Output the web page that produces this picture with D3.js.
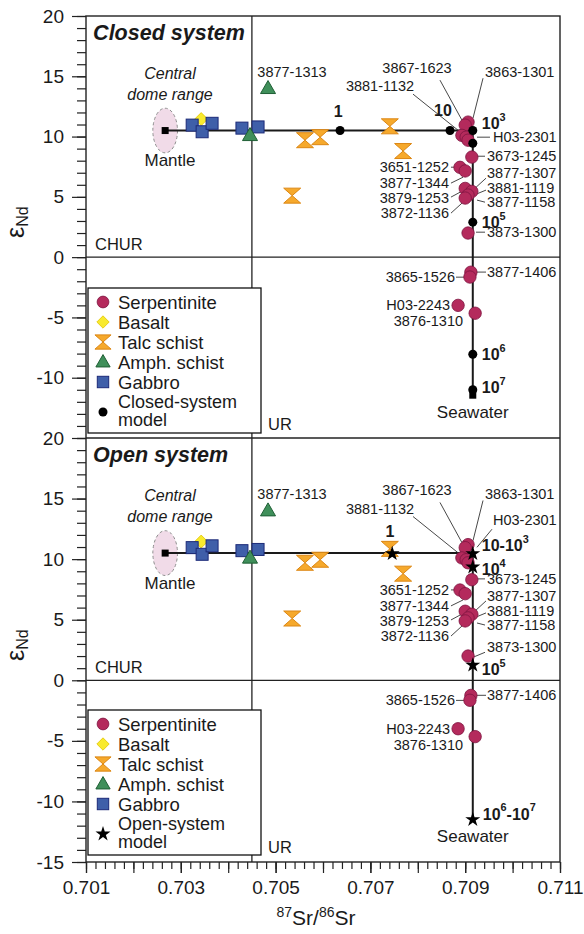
<!DOCTYPE html>
<html><head><meta charset="utf-8">
<script src="https://cdn.jsdelivr.net/npm/d3@7"></script>
<style>
body{margin:0;background:#fff}
text{font-family:"Liberation Sans",Arial,Helvetica,sans-serif;fill:#1a1a1a}
</style>
</head><body>
<svg id="chart" width="584" height="934"></svg>
<script>
// ---------------- DATA ----------------
const xTickLabels = ["0.701","0.703","0.705","0.707","0.709","0.711"];
const yTickLabelsTop = [20,15,10,5,0,-5,-10];
const yTickLabelsBottom = [20,15,10,5,0,-5,-10,-15];

const serpentiniteX = [0.70906,0.70900,0.70893,0.70902,0.70906,0.70914,0.70889,0.70900,0.70900,0.70914,0.70906,0.70900,0.70906,0.70912,0.70910,0.70885,0.70921];
const serpentiniteY = [11.2,10.95,10.1,9.95,9.7,8.3,7.45,7.15,5.7,5.45,5.15,4.9,2.0,-1.25,-1.65,-4.0,-4.65];
const basaltX = [0.70343];
const basaltY = [11.45];
const talcX = [0.70562,0.70594,0.70741,0.70769,0.70535];
const talcY = [9.7,9.95,10.85,8.8,5.1];
const amphX = [0.70484,0.70446];
const amphY = [14.0,10.1];
const gabbroX = [0.70324,0.70345,0.70366,0.70429,0.70463];
const gabbroY = [10.95,10.4,11.1,10.7,10.8];

const mantle = [0.70267,10.5];
const seawater = [0.70916,-11.45];
const mixCorner = [0.70916,10.5];
const centralDome = [0.70267,10.5,0.00026,1.85]; // cx, cy, rx, ry (data units)

const closedModelX = [0.70636,0.70868,0.70916,0.70916,0.70916,0.70916,0.70916];
const closedModelY = [10.5,10.5,10.5,9.45,2.9,-8.05,-11.0];
const closedModelLabels = ["1","10","10^3","10^5","10^6","10^7"];
const closedModelLabelX = [0.70632,0.70853,0.70935,0.70935,0.70935,0.70935];
const closedModelLabelY = [12.1,12.2,11.1,2.9,-8.0,-10.8];
const closedModelLabelAnchor = ["middle","middle","start","start","start","start"];

const openModelX = [0.70746,0.70916,0.70916,0.70916,0.70916];
const openModelY = [10.45,10.45,9.35,1.25,-11.5];
const openModelLabels = ["1","10-10^3","10^4","10^5","10^6-10^7"];
const openModelLabelX = [0.70741,0.70935,0.70935,0.70935,0.70937];
const openModelLabelY = [12.3,11.15,9.15,0.95,-11.0];
const openModelLabelAnchor = ["middle","start","start","start","start"];

const sampleNames  = ["3877-1313","3867-1623","3863-1301","3881-1132","3673-1245","3651-1252","3877-1344","3879-1253","3872-1136","3877-1307","3881-1119","3877-1158","3877-1406","3865-1526","H03-2243","3876-1310"];
const sampleLabelX = [0.705346,0.707983,0.709418,0.707203,0.709460,0.708658,0.708658,0.708658,0.708658,0.709460,0.709460,0.709460,0.709460,0.708785,0.708680,0.708955];
const sampleLabelY = [15.34,15.67,15.34,14.18,8.37,7.46,6.14,4.89,3.65,6.97,5.72,4.56,-1.24,-1.66,-3.98,-5.31];
const sampleAnchor = ["middle","middle","start","middle","start","end","end","end","end","start","start","start","start","end","end","end"];
const leaderX1 = [0.708468,0.709376,0.707899,0.709249,0.708700,0.708700,0.708700,0.708700,0.709439,0.709439,0.709249,0.709249,0.708806];
const leaderY1 = [14.68,14.84,13.52,8.37,7.46,6.14,4.98,3.65,6.55,5.56,4.73,-1.24,-1.66];
const leaderX2 = [0.708932,0.709165,0.708848,0.709418,0.708806,0.708954,0.708932,0.708932,0.709186,0.709228,0.709418,0.709439,0.708975];
const leaderY2 = [11.36,11.53,10.53,8.37,7.46,6.63,5.47,4.48,5.64,5.22,4.56,-1.24,-1.66];

const h03TopLabel = [0.709586,9.95], h03TopLeader = [0.709249,9.95,0.709523,9.95];
const h03BotLabel = [0.709586,13.2], h03BotLeader = [0.709565,12.47,0.709249,10.98];
const s1300TopLabel = [0.709460,2.07], s1300TopLeader = [0.709228,2.07,0.709418,2.07];
const s1300BotLabel = [0.709460,2.73], s1300BotLeader = [0.709418,2.31,0.709165,1.90];

const legendNames = ["Serpentinite","Basalt","Talc schist","Amph. schist","Gabbro"];

// ---------------- CHART ----------------
const svg = d3.select("#chart");
const x = d3.scaleLinear().domain([0.701,0.711]).range([86,560]);
const yTop = d3.scaleLinear().domain([-15,20]).range([438,16]);
const yBot = d3.scaleLinear().domain([-15,20]).range([862,438]);

const C = {
  serp:["#b42a5c","#7e1440"], bas:["#f8ea2e","#e2c400"], talc:["#f6a92c","#dc8714"],
  amph:["#3f8f5a","#1f5f35"], gab:["#3f5fa9","#1c2a78"]
};

function hourglass(w,h){return `M${-w/2},${-h/2}L${w/2},${-h/2}L0,0L${w/2},${h/2}L${-w/2},${h/2}L0,0Z`;}
function triangle(w,h){return `M0,${-h*0.6}L${w/2},${h*0.4}L${-w/2},${h*0.4}Z`;}
function diamond(s){return `M0,${-s/2}L${s/2},0L0,${s/2}L${-s/2},0Z`;}

function drawMarker(g,type,px,py,scale){
  scale = scale||1;
  if(type==="serp") g.append("circle").attr("cx",px).attr("cy",py).attr("r",6.2*scale).attr("fill",C.serp[0]).attr("stroke",C.serp[1]).attr("stroke-width",0.8);
  else if(type==="bas") g.append("path").attr("d",diamond(13*scale)).attr("transform",`translate(${px},${py})`).attr("fill",C.bas[0]).attr("stroke",C.bas[1]).attr("stroke-width",0.8);
  else if(type==="talc") g.append("path").attr("d",hourglass(17*scale,15*scale)).attr("transform",`translate(${px},${py})`).attr("fill",C.talc[0]).attr("stroke",C.talc[1]).attr("stroke-width",1);
  else if(type==="amph") g.append("path").attr("d",triangle(15*scale,13*scale)).attr("transform",`translate(${px},${py})`).attr("fill",C.amph[0]).attr("stroke",C.amph[1]).attr("stroke-width",1);
  else if(type==="gab") g.append("rect").attr("x",px-6*scale).attr("y",py-6*scale).attr("width",12*scale).attr("height",12*scale).attr("fill",C.gab[0]).attr("stroke",C.gab[1]).attr("stroke-width",1);
}

function supText(g,str,px,py,anchor,size,weight){
  const t = g.append("text").attr("x",px).attr("y",py).attr("text-anchor",anchor)
    .attr("font-size",size).attr("font-weight",weight||"normal");
  const parts = str.split(/\^(\d)/);
  parts.forEach((p,i)=>{
    if(p==="") return;
    if(i%2===1) t.append("tspan").attr("dy",-size*0.38).attr("font-size",size*0.68).text(p);
    else t.append("tspan").attr("dy", i>0 ? size*0.38 : 0).text(p);
  });
  return t;
}

function panel(y, open){
  const g = svg.append("g");
  g.append("ellipse").attr("cx",x(centralDome[0])).attr("cy",y(centralDome[1]))
    .attr("rx",x(centralDome[0]+centralDome[2])-x(centralDome[0]))
    .attr("ry",y(centralDome[1]-centralDome[3])-y(centralDome[1]))
    .attr("fill","#f1dbe8").attr("stroke","#8e8e8e").attr("stroke-width",1).attr("stroke-dasharray","3,2.5");
  g.append("line").attr("x1",x(0.701)).attr("x2",x(0.711)).attr("y1",y(0)).attr("y2",y(0)).attr("stroke","#222").attr("stroke-width",1.3);
  g.append("line").attr("x1",x(0.7045)).attr("x2",x(0.7045)).attr("y1",y(20)).attr("y2",y(-15)).attr("stroke","#222").attr("stroke-width",1.3);
  const line = d3.line().x(d=>x(d[0])).y(d=>y(d[1]));
  g.append("path").attr("d",line([mantle,mixCorner,seawater])).attr("fill","none").attr("stroke","#1a1a1a").attr("stroke-width",2);
  g.append("rect").attr("x",x(mantle[0])-3.5).attr("y",y(mantle[1])-3.5).attr("width",7).attr("height",7).attr("fill","#000");
  if(!open) g.append("rect").attr("x",x(seawater[0])-3.5).attr("y",y(seawater[1])-3.5).attr("width",7).attr("height",7).attr("fill","#000");
  leaderX1.forEach((v,i)=>{
    g.append("line").attr("x1",x(v)).attr("y1",y(leaderY1[i])).attr("x2",x(leaderX2[i])).attr("y2",y(leaderY2[i])).attr("stroke","#333").attr("stroke-width",0.9);
  });
  const hl = open? h03BotLeader : h03TopLeader;
  const sl = open? s1300BotLeader : s1300TopLeader;
  [hl,sl].forEach(l=>g.append("line").attr("x1",x(l[0])).attr("y1",y(l[1])).attr("x2",x(l[2])).attr("y2",y(l[3])).attr("stroke","#333").attr("stroke-width",0.9));
  basaltX.forEach((v,i)=>drawMarker(g,"bas",x(v),y(basaltY[i])));
  gabbroX.forEach((v,i)=>drawMarker(g,"gab",x(v),y(gabbroY[i])));
  amphX.forEach((v,i)=>drawMarker(g,"amph",x(v),y(amphY[i])));
  talcX.forEach((v,i)=>drawMarker(g,"talc",x(v),y(talcY[i])));
  serpentiniteX.forEach((v,i)=>drawMarker(g,"serp",x(v),y(serpentiniteY[i])));
  if(!open){
    closedModelX.forEach((v,i)=>g.append("circle").attr("cx",x(v)).attr("cy",y(closedModelY[i])).attr("r",4.5).attr("fill","#000"));
    closedModelLabels.forEach((s,i)=>supText(g,s,x(closedModelLabelX[i]),y(closedModelLabelY[i]),closedModelLabelAnchor[i],16,"bold").attr("dominant-baseline","central"));
  } else {
    const star = d3.symbol(d3.symbolStar).size(70);
    openModelX.forEach((v,i)=>g.append("path").attr("d",star()).attr("transform",`translate(${x(v)},${y(openModelY[i])})`).attr("fill","#000"));
    openModelLabels.forEach((s,i)=>supText(g,s,x(openModelLabelX[i]),y(openModelLabelY[i]),openModelLabelAnchor[i],16,"bold").attr("dominant-baseline","central"));
  }
  sampleNames.forEach((s,i)=>{
    g.append("text").attr("x",x(sampleLabelX[i])).attr("y",y(sampleLabelY[i])).attr("text-anchor",sampleAnchor[i])
      .attr("dominant-baseline","central").attr("font-size",14.5).text(s);
  });
  const hp = open? h03BotLabel : h03TopLabel, sp = open? s1300BotLabel : s1300TopLabel;
  g.append("text").attr("x",x(hp[0])).attr("y",y(hp[1])).attr("dominant-baseline","central").attr("font-size",14.5).text("H03-2301");
  g.append("text").attr("x",x(sp[0])).attr("y",y(sp[1])).attr("dominant-baseline","central").attr("font-size",14.5).text("3873-1300");
  g.append("text").attr("x",x(0.70115)).attr("y",y(18.6)).attr("dominant-baseline","central").attr("font-size",21.5).attr("font-weight","bold").attr("font-style","italic").text(open?"Open system":"Closed system");
  g.append("text").attr("x",x(0.702772)).attr("y",y(15.26)).attr("text-anchor","middle").attr("dominant-baseline","central").attr("font-size",16).attr("font-style","italic").text("Central");
  g.append("text").attr("x",x(0.702772)).attr("y",y(13.5)).attr("text-anchor","middle").attr("dominant-baseline","central").attr("font-size",16).attr("font-style","italic").text("dome range");
  g.append("text").attr("x",x(0.702772)).attr("y",y(8.0)).attr("text-anchor","middle").attr("dominant-baseline","central").attr("font-size",17).text("Mantle");
  g.append("text").attr("x",x(0.70916)).attr("y",y(-12.9)).attr("text-anchor","middle").attr("dominant-baseline","central").attr("font-size",17).text("Seawater");
  g.append("text").attr("x",x(0.70119)).attr("y",y(1.1)).attr("dominant-baseline","central").attr("font-size",16.5).text("CHUR");
  g.append("text").attr("x",x(0.70484)).attr("y",y(-13.8)).attr("dominant-baseline","central").attr("font-size",16.5).text("UR");
  const top = y(20);
  const lg = g.append("g");
  lg.append("rect").attr("x",88).attr("y",top+272).attr("width",173).attr("height",145).attr("fill","#fff").attr("stroke","#111").attr("stroke-width",1.3);
  const types = ["serp","bas","talc","amph","gab"];
  legendNames.forEach((n,i)=>{
    const yy = top+286+i*20;
    drawMarker(lg,types[i],103,yy,0.95);
    lg.append("text").attr("x",118).attr("y",yy).attr("dominant-baseline","central").attr("font-size",18.5).text(n);
  });
  if(open){
    lg.append("path").attr("d",d3.symbol(d3.symbolStar).size(70)()).attr("transform",`translate(103,${top+396})`).attr("fill","#000");
  } else {
    lg.append("circle").attr("cx",103).attr("cy",top+396).attr("r",4.5).attr("fill","#000");
  }
  lg.append("text").attr("x",118).attr("y",top+386).attr("dominant-baseline","central").attr("font-size",18).text(open?"Open-system":"Closed-system");
  lg.append("text").attr("x",118).attr("y",top+404).attr("dominant-baseline","central").attr("font-size",18).text("model");
  const minor = g.append("g").attr("transform","translate(86,0)").call(d3.axisLeft(y).tickValues(d3.range(-15,21)).tickSize(9).tickFormat(""));
  minor.select(".domain").remove();
  const labels = open? yTickLabelsBottom : yTickLabelsTop;
  const major = g.append("g").attr("transform","translate(86,0)")
    .call(d3.axisLeft(y).tickValues(labels).tickSize(14).tickPadding(8).tickFormat(d=>String(d)));
  major.select(".domain").remove();
  major.selectAll("text").attr("font-size",19).attr("fill","#1a1a1a").attr("font-family","Liberation Sans, Arial, sans-serif");
  g.selectAll(".tick line").attr("stroke","#222").attr("stroke-width",1.2);
  const yt = g.append("text").attr("transform",`translate(24,${y(2.9)}) rotate(-90)`).attr("text-anchor","middle");
  yt.append("tspan").attr("font-size",25).text("ε");
  yt.append("tspan").attr("font-size",16).attr("dy",4).text("Nd");
}

panel(yTop,false);
panel(yBot,true);

svg.append("rect").attr("x",86).attr("y",16).attr("width",474).attr("height",846).attr("fill","none").attr("stroke","#222").attr("stroke-width",1.4);
svg.append("line").attr("x1",86).attr("x2",560).attr("y1",438).attr("y2",438).attr("stroke","#222").attr("stroke-width",1.4);

const xMinor = svg.append("g").attr("transform","translate(0,862)")
  .call(d3.axisBottom(x).tickValues(d3.range(0,51).map(i=>+(0.701+i*0.0002).toFixed(4))).tickSize(7).tickFormat(""));
xMinor.select(".domain").remove();
const xMid = svg.append("g").attr("transform","translate(0,862)")
  .call(d3.axisBottom(x).tickValues(d3.range(0,11).map(i=>+(0.701+i*0.001).toFixed(3))).tickSize(11).tickFormat(""));
xMid.select(".domain").remove();
const xMajor = svg.append("g").attr("transform","translate(0,862)")
  .call(d3.axisBottom(x).tickValues(xTickLabels.map(Number)).tickSize(11).tickPadding(8).tickFormat((d,i)=>xTickLabels[i]));
xMajor.select(".domain").remove();
xMajor.selectAll("text").attr("font-size",19).attr("fill","#1a1a1a").attr("font-family","Liberation Sans, Arial, sans-serif");
svg.selectAll(".tick line").attr("stroke","#222").attr("stroke-width",1.2);

const xt = svg.append("text").attr("x",316).attr("y",925).attr("text-anchor","middle").attr("font-size",21);
xt.append("tspan").attr("font-size",14).attr("dy",-8).text("87");
xt.append("tspan").attr("dy",8).text("Sr/");
xt.append("tspan").attr("font-size",14).attr("dy",-8).text("86");
xt.append("tspan").attr("dy",8).text("Sr");
</script>
</body></html>
